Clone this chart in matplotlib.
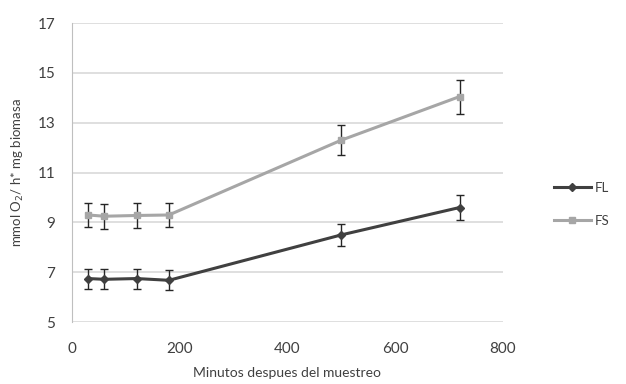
import matplotlib
matplotlib.use("Agg")
import matplotlib.pyplot as plt

plt.rcParams['font.family'] = ['Lato', 'DejaVu Sans']

minutes = [30, 60, 120, 180, 500, 720]
fl_values = [6.75, 6.72, 6.75, 6.68, 8.5, 9.6]
fl_err = [0.4, 0.4, 0.4, 0.4, 0.45, 0.5]
fs_values = [9.3, 9.25, 9.28, 9.3, 12.3, 14.05]
fs_err = [0.5, 0.5, 0.5, 0.5, 0.6, 0.68]
yticks = [5, 7, 9, 11, 13, 15, 17]
xticks = [0, 200, 400, 600, 800]

fig = plt.figure(figsize=(6.26, 3.84), dpi=100)
ax = fig.add_axes([0.115, 0.161, 0.688, 0.779])

ax.errorbar(minutes, fl_values, yerr=fl_err, color='#404040', marker='D', markersize=4,
            linewidth=2.2, ecolor='#262626', elinewidth=1, capsize=3, capthick=1, label='FL', zorder=3)
ax.errorbar(minutes, fs_values, yerr=fs_err, color='#a6a6a6', marker='s', markersize=5,
            linewidth=2.2, ecolor='#262626', elinewidth=1, capsize=3, capthick=1, label='FS', zorder=3)

ax.set_xlim(0, 800)
ax.set_ylim(5, 17)
ax.set_xticks(xticks)
ax.set_yticks(yticks)
ax.yaxis.grid(True, color='#d9d9d9', linewidth=1.2)
ax.set_axisbelow(True)
for s in ['top', 'right', 'bottom']:
    ax.spines[s].set_visible(False)
ax.spines['left'].set_color('#bfbfbf')
ax.tick_params(axis='both', length=0, labelsize=11, colors='#404040')
ax.tick_params(axis='x', pad=14)
ax.tick_params(axis='y', pad=12)

ax.set_xlabel('Minutos despues del muestreo', fontsize=10, color='#404040', labelpad=8)
ax.set_ylabel('mmol O$_2$/ h* mg biomasa', fontsize=9.5, color='#404040', labelpad=8)

handles, labels = ax.get_legend_handles_labels()
fig.legend([h[0] for h in handles], labels, loc='center left', bbox_to_anchor=(0.885, 0.468),
           frameon=False, fontsize=9.5, handlelength=2.8, handletextpad=0.3,
           labelspacing=1.6, borderpad=0, borderaxespad=0, labelcolor='#404040')

fig.savefig('out.png', dpi=100)
